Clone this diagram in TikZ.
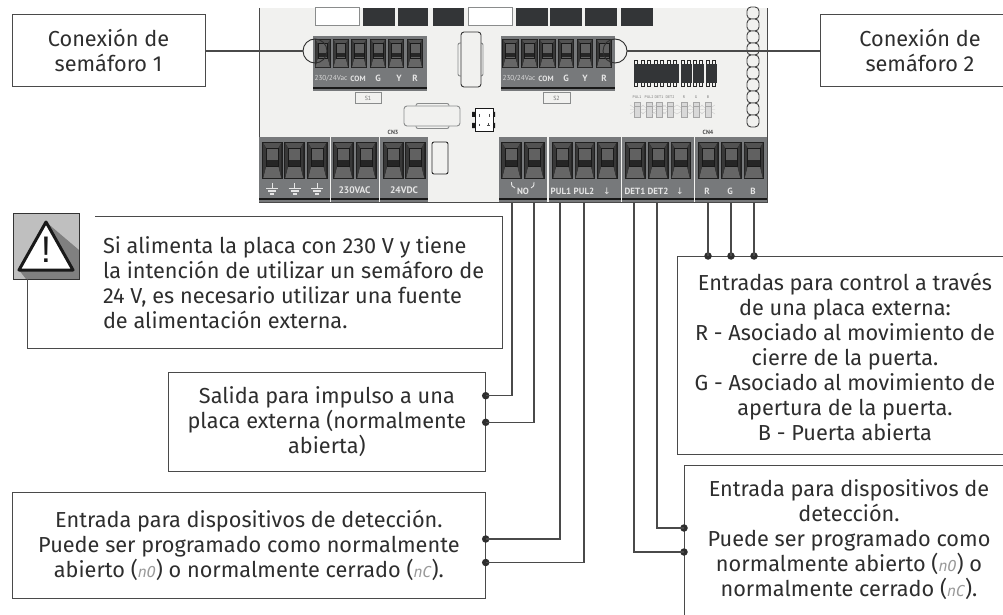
\documentclass[tikz,border=0pt]{standalone}
\usepackage{fontspec}
\setmainfont{Fira Sans}
\newfontfamily\bandfont{PT Sans}
\newfontfamily\segfont{DejaVu Sans Mono}
\newfontfamily\symfont{DejaVu Sans}
\newfontfamily\warnfont{Liberation Sans}
\definecolor{ink}{HTML}{2E2E2E}
\definecolor{edge}{HTML}{4A4A4A}
\definecolor{boardbg}{HTML}{F1F1EF}
\definecolor{band}{HTML}{77797B}
\definecolor{part}{HTML}{333537}
\definecolor{outl}{HTML}{8A8C8C}
\tikzset{
  every node/.style={inner sep=0pt,outer sep=0pt},
  lbl/.style={text=ink,font=\fontsize{21.7}{25}\selectfont,align=center},
  lblleft/.style={text=ink,font=\fontsize{21.7}{25}\selectfont,align=left},
  lblbox/.style={lbl,draw=edge,line width=0.9pt,rectangle},
  bandtxt/.style={text=white!90!black,font=\bandfont\bfseries\fontsize{9}{9}\selectfont},
  bandsmall/.style={text=white!85!black,font=\bandfont\fontsize{7.2}{8}\selectfont},
  tiny/.style={text=black!55,font=\bandfont\fontsize{3.8}{4}\selectfont},
  cnlbl/.style={text=black!70,font=\bandfont\bfseries\fontsize{6}{6}\selectfont},
  dotn/.style={circle,fill=ink,minimum size=7.5pt},
  wire/.style={draw=edge,line width=1.1pt},
  frame/.style={draw=edge,line width=0.9pt},
  comp/.style={draw=outl,line width=0.9pt,fill=boardbg,rounded corners=2pt},
}
\newcommand\seg[1]{{\segfont\slshape\fontsize{15}{15}\selectfont\textcolor{black!40}{#1}}}
\newcommand\termcell[4]{%
  \begin{scope}[shift={(#1,#2)},xscale=#3/20,yscale=#4/37]
    \fill[black!88] (0,0) rectangle (20,37);
    \fill[black!68] (1.2,1.2)--(18.8,1.2)--(16,6)--(4,6)--cycle;
    \fill[black!60] (1.2,35.8)--(18.8,35.8)--(16,24)--(4,24)--cycle;
    \fill[black!78] (1.2,1.2)--(4,6)--(4,24)--(1.2,35.8)--cycle;
    \fill[black!78] (18.8,1.2)--(16,6)--(16,24)--(18.8,35.8)--cycle;
    \fill[black!62] (4,6) rectangle (16,24);
    \fill[black!85] (4,17.5) rectangle (16,23.5);
    \draw[black!90,line width=0.6pt] (4,6) rectangle (16,24);
  \end{scope}}
\newcommand\termblock[5]{% x1 x2 ytop ystrip ybot
  \fill[band] (#1,#3) rectangle (#2,#5);
  \fill[black!90] (#1,#4) rectangle (#2,#4+2.2);}
\newcommand\gnd[1]{%
  \draw[white!90!black,line width=0.9pt] (#1,183)--(#1,188) (#1-6,188)--(#1+6,188);
  \draw[white!90!black,line width=1.2pt] (#1-4,191)--(#1+4,191);
  \draw[white!90!black,line width=1.5pt] (#1-2,194)--(#1+2,194);}
\begin{document}
\begin{tikzpicture}[x=1pt,y=-1pt]
\clip (0,0) rectangle (1003,615);
\useasboundingbox (0,0) rectangle (1003,615);
\fill[white] (0,0) rectangle (1003,615);
% board
\fill[boardbg] (259,8) rectangle (767,202);
\draw[edge,line width=0.9pt] (259,8)--(259,202)--(767,202)--(767,8);
% top parts
\draw[outl,line width=1pt,fill=white] (315,8) rectangle (359,26);
\draw[outl,line width=1pt,fill=white] (468,8) rectangle (512.5,26);
\foreach \a/\b in {363/395,398/428,433/464,516/548,550/582,585/617,621/653}
  \fill[part] (\a,8) rectangle (\b,26.5);
% inductor column
\foreach \i in {0,...,9}
  \draw[black!75,line width=0.9pt,fill=boardbg,rounded corners=4pt] (747,7+12*\i) rectangle (759,19+12*\i);
% S1 / S2 blocks
\termblock{313}{427}{36}{87}{91}
\termblock{501}{615}{36}{87}{91}
\foreach \x/\w in {314.5/16.5,332.5/16.5,351/16,370/16,388/16,407/16}
  \termcell{\x}{39}{\w}{29};
\foreach \x/\w in {502/17,521/17,539/17,558/16,577/16,596/16}
  \termcell{\x}{39}{\w}{29};
\node[bandsmall] at (331,78.5) {230/24Vac};
\node[bandtxt,font=\bandfont\bfseries\fontsize{7.6}{8}\selectfont] at (358,78.5) {COM};
\node[bandtxt] at (378,78.5) {G};
\node[bandtxt] at (399,78.5) {Y};
\node[bandtxt] at (415,78.5) {R};
\node[bandsmall] at (519,78.5) {230/24Vac};
\node[bandtxt,font=\bandfont\bfseries\fontsize{7.6}{8}\selectfont] at (546,78.5) {COM};
\node[bandtxt] at (566,78.5) {G};
\node[bandtxt] at (585,78.5) {Y};
\node[bandtxt] at (604,78.5) {R};
\draw[outl,line width=1pt] (355,93) rectangle (381,104);
\node[tiny,font=\bandfont\fontsize{6}{6}\selectfont] at (368,98.5) {S1};
\draw[outl,line width=1pt] (543,93) rectangle (570,104);
\node[tiny,font=\bandfont\fontsize{6}{6}\selectfont] at (556.5,98.5) {S2};
% transformer-like parts
\draw[comp] (458,43) rectangle (483,76);
\draw[black!80,line width=0.9pt,fill=boardbg,rounded corners=3pt] (461,32) rectangle (481,87);
\draw[comp] (416,103.5) rectangle (449,128.5);
\draw[comp,rounded corners=3pt] (404,106) rectangle (460,126);
\draw[black!85,line width=0.9pt,fill=boardbg,rounded corners=2pt] (432,142) rectangle (448,174);
% bridge
\fill[black!90] (472,112) rectangle (476,117) (472,123) rectangle (476,128) (491,112) rectangle (495,117) (491,123) rectangle (495,128);
\draw[black!90,line width=1pt,fill=white] (475,109) rectangle (493,131);
\draw[black!70,line width=0.5pt] (479,114)--(479,117) (489,114)--(489,117) (479,124)--(479,126) (487,125)--(490,125) (488.5,123.5)--(488.5,126.5);
% chips
\fill[part] (634,64) rectangle (679,83);
\foreach \a/\b in {681/692,693/704,705.5/716.5} \fill[part] (\a,64) rectangle (\b,83);
\foreach \x in {636,642.5,649,655.5,662,668.5,675,683,689,695,701,708,714}{
  \draw[black!85,line width=0.7pt] (\x-1.5,64)--(\x-1.5,60.5)--(\x+1.5,60.5)--(\x+1.5,64);
  \draw[black!85,line width=0.7pt] (\x-1.5,83)--(\x-1.5,86.5)--(\x+1.5,86.5)--(\x+1.5,83);}
% LEDs
\foreach \x/\t in {637/PUL1,649/PUL2,659/DET1,670/DET2,684/R,696/G,708/B}{
  \draw[black!20,line width=0.4pt] (\x-7,105)--(\x+7,114) (\x-7,114)--(\x+7,105) (\x-7,109.5)--(\x+7,109.5);
  \draw[black!35,line width=0.7pt,fill=black!15] (\x-3,102) rectangle (\x+3,117);
  \draw[black!35,line width=0.5pt] (\x-3,106)--(\x+3,106);
  \node[tiny] at (\x,97) {\t};}
% bottom row blocks
\foreach \a/\b in {259/330,331/379,380/428,499/547,549/621,622/694,695/767}
  \termblock{\a}{\b}{137}{198}{202};
\foreach \x in {262,284,307,333,356,383,405,501,524,552,574.5,597,625,648,670.5,698,721,743.5}
  \termcell{\x}{142}{20.5}{37};
\gnd{272}\gnd{294.5}\gnd{317}
\node[bandtxt,font=\bandfont\bfseries\fontsize{9.5}{10}\selectfont] at (354.5,190) {230VAC};
\node[bandtxt,font=\bandfont\bfseries\fontsize{9.5}{10}\selectfont] at (404,190) {24VDC};
\node[bandtxt] at (523,191) {NO};
\draw[white!90!black,line width=0.9pt] (511.5,182) .. controls (511.5,186) and (512,187) .. (515,188);
\draw[white!90!black,line width=0.9pt] (534,182) .. controls (534,186) and (533.5,187) .. (531,188);
\node[bandtxt] at (561,191) {PUL1};
\node[bandtxt] at (584,191) {PUL2};
\node[bandtxt,font=\symfont\fontsize{9}{9}\selectfont] at (607,191) {↓};
\node[bandtxt] at (635,191) {DET1};
\node[bandtxt] at (658,191) {DET2};
\node[bandtxt,font=\symfont\fontsize{9}{9}\selectfont] at (680,191) {↓};
\node[bandtxt] at (707,191) {R};
\node[bandtxt] at (730,191) {G};
\node[bandtxt] at (753,191) {B};
\node[cnlbl] at (393,132) {CN3};
\node[cnlbl] at (708,132) {CN4};
% circles
\node[circle,draw=ink,line width=0.9pt,minimum size=24pt] (c1) at (315,51) {};
\node[circle,draw=ink,line width=0.9pt,minimum size=24pt] (c2) at (615,51) {};
% semaphore labels
\node[lblbox,minimum width=193pt,minimum height=72pt] (s1) at (108.5,50) {Conexión de\\semáforo 1};
\coordinate (s2tl) at (820,14);
\coordinate (s2bl) at (820,86);
\coordinate (s2w) at (820,51);
\draw[frame] (1010,14) -- (s2tl) -- (s2bl) -- (1010,86);
\node[lbl] (s2) at (920,50) {Conexión de\\semáforo 2};
\draw[wire] (s1.east |- c1.west) -- (c1.west);
\draw[wire] (c2.east) -- (s2w);
% warning
\fill[black!25,draw=black!80,line width=0.9pt] (13,213) rectangle (79,279);
\fill[black!50] (46,222)--(79,250)--(79,279)--(26,279)--(19,270)--cycle;
\draw[black!80,line width=0.9pt] (13,213) rectangle (79,279);
\draw[black!90,line width=3pt,line join=round,fill=white] (46,222)--(73,270)--(19,270)--cycle;
\node[text=black!90,font=\warnfont\fontsize{37}{37}\selectfont] (mark) at (46,250) {!};
\coordinate (wa) at (95,216);
\coordinate (wb) at (502,216);
\coordinate (wc) at (502,348);
\coordinate (wd) at (27,348);
\coordinate (we) at (27,279);
\draw[frame] (wa) -- (wb) -- (wc) -- (wd) -- (we);
\node[lblleft,anchor=west] (warn) at (103,283) {Si alimenta la placa con 230 V y tiene\\la intención de utilizar un semáforo de\\24 V, es necesario utilizar una fuente\\de alimentación externa.};
% pulse label
\node[lblbox,minimum width=317.5pt,minimum height=99pt] (sal) at (326.9,421.5) {Salida para impulso a una\\placa externa (normalmente\\abierta)};
\node[lblbox,minimum width=473.5pt,minimum height=106pt] (ent) at (248.9,545) {Entrada para dispositivos de detección.\\Puede ser programado como normalmente\\abierto (\seg{nO}) o normalmente cerrado (\seg{nC}).};
% RGB label
\coordinate (rtl) at (677,256);
\coordinate (rbl) at (677,454);
\draw[frame] (1010,256) -- (rtl) -- (rbl) -- (1010,454);
\node[lbl] (rgb) at (845,357) {Entradas para control a través\\de una placa externa:\\R - Asociado al movimiento de\\cierre de la puerta.\\G - Asociado al movimiento de\\apertura de la puerta.\\B - Puerta abierta};
% DET label
\coordinate (dtl) at (684,465);
\coordinate (dbl) at (684,615);
\draw[frame] (1010,465) -- (dtl) -- (dbl);
\node[lbl] (det) at (849,540) {Entrada para dispositivos de\\detección.\\Puede ser programado como\\normalmente abierto (\seg{nO}) o\\normalmente cerrado (\seg{nC}).};
% connectors
\coordinate (pno1) at (512,202);
\coordinate (pno2) at (534,202);
\coordinate (ppul1) at (560,202);
\coordinate (ppul2) at (584,202);
\coordinate (pdet1) at (634,202);
\coordinate (pdet2) at (657,202);
\coordinate (pr) at (708,202);
\coordinate (pg) at (731,202);
\coordinate (pb) at (754,202);
\node[dotn] (d1) at (485.7,395.7) {};
\node[dotn] (d2) at (485.7,422.3) {};
\node[dotn] (d3) at (485.7,539) {};
\node[dotn] (d4) at (485.7,562.5) {};
\node[dotn] (d5) at (684,528) {};
\node[dotn] (d6) at (684,552) {};
\node[dotn] (d7) at (708,256) {};
\node[dotn] (d8) at (731,256) {};
\node[dotn] (d9) at (754,256) {};
\draw[wire] (pno1) |- (d1.center);
\draw[wire] (pno2) |- (d2.center);
\draw[wire] (ppul1) |- (d3.center);
\draw[wire] (ppul2) |- (d4.center);
\draw[wire] (pdet2) |- (d5.center);
\draw[wire] (pdet1) |- (d6.center);
\draw[wire] (pr) -- (d7.center);
\draw[wire] (pg) -- (d8.center);
\draw[wire] (pb) -- (d9.center);
\end{tikzpicture}
\end{document}
